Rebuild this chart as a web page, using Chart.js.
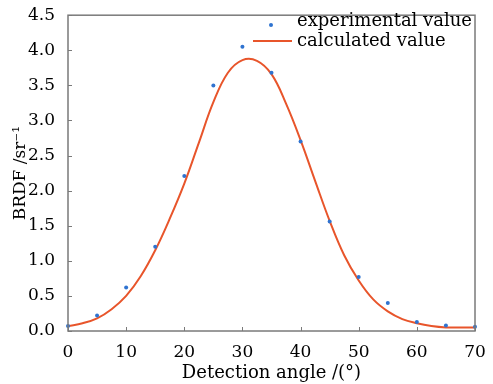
<!DOCTYPE html>
<html>
<head>
<meta charset="utf-8">
<script src="https://cdn.jsdelivr.net/npm/chart.js@4.4.0/dist/chart.umd.min.js"></script>
<style>
    html, body { margin: 0; padding: 0; background: #fff; }
    #wrap { width: 493px; height: 384px; }
</style>
</head>
<body>
<div id="wrap"><canvas id="brdfChart" width="493" height="384"></canvas></div>
<script>
// Measured points
const expAngles = [0, 5, 10, 15, 20, 25, 30, 35, 40, 45, 50, 55, 60, 65, 70];
const expValues = [0.07, 0.22, 0.62, 1.2, 2.21, 3.5, 4.05, 3.68, 2.7, 1.56, 0.77, 0.4, 0.13, 0.08, 0.06];

// Calculated curve
const calcAngles = [0, 2.5, 5, 7.5, 10, 12.5, 15, 17.5, 20, 22.5, 25, 27.5, 30, 32.5, 35, 37.5, 40, 42.5, 45, 47.5, 50, 52.5, 55, 57.5, 60, 62.5, 65, 67.5, 70];
const calcValues = [0.07, 0.11, 0.18, 0.31, 0.5, 0.78, 1.15, 1.6, 2.1, 2.68, 3.26, 3.68, 3.86, 3.85, 3.66, 3.24, 2.72, 2.14, 1.57, 1.08, 0.72, 0.45, 0.28, 0.17, 0.11, 0.07, 0.05, 0.05, 0.05];

const legendLabels = ["experimental value", "calculated value"];

const pointColor = "#2f73d0";
const lineColor = "#e8552b";
const frameColor = "#7a7a7a";
const fontFamily = "'DejaVu Serif', serif";

function toXY(xs, ys) {
    return xs.map((x, i) => ({ x: x, y: ys[i] }));
}

// Frame, inward ticks and legend
const framePlugin = {
    id: "frame",
    afterDraw(chart) {
        const ctx = chart.ctx;
        const area = chart.chartArea;
        const xScale = chart.scales.x;
        const yScale = chart.scales.y;

        ctx.save();
        ctx.strokeStyle = frameColor;
        ctx.lineWidth = 1.5;
        ctx.strokeRect(area.left, area.top, area.right - area.left, area.bottom - area.top);

        ctx.lineWidth = 1;
        ctx.beginPath();
        xScale.ticks.forEach((t) => {
            const px = Math.round(xScale.getPixelForValue(t.value)) + 0.5;
            ctx.moveTo(px, area.bottom);
            ctx.lineTo(px, area.bottom - 4);
        });
        yScale.ticks.forEach((t) => {
            const py = Math.round(yScale.getPixelForValue(t.value)) + 0.5;
            ctx.moveTo(area.left, py);
            ctx.lineTo(area.left + 4, py);
        });
        ctx.stroke();

        // legend
        ctx.font = "18px " + fontFamily;
        ctx.textBaseline = "middle";
        ctx.textAlign = "left";

        ctx.fillStyle = pointColor;
        ctx.beginPath();
        ctx.arc(271, 25, 2, 0, Math.PI * 2);
        ctx.fill();

        ctx.strokeStyle = lineColor;
        ctx.lineWidth = 2;
        ctx.beginPath();
        ctx.moveTo(253, 41);
        ctx.lineTo(292, 41);
        ctx.stroke();

        ctx.fillStyle = "#000";
        ctx.fillText(legendLabels[0], 297, 21);
        ctx.fillText(legendLabels[1], 297, 41);
        ctx.restore();
    },
};

const ctx = document.getElementById("brdfChart").getContext("2d");

new Chart(ctx, {
    type: "scatter",
    data: {
        datasets: [
            {
                label: legendLabels[1],
                data: toXY(calcAngles, calcValues),
                showLine: true,
                borderColor: lineColor,
                borderWidth: 2,
                pointRadius: 0,
                tension: 0.4,
                order: 2,
            },
            {
                label: legendLabels[0],
                data: toXY(expAngles, expValues),
                backgroundColor: pointColor,
                borderColor: pointColor,
                pointRadius: 2,
                borderWidth: 0,
                clip: false,
                order: 1,
            },
        ],
    },
    options: {
        responsive: false,
        animation: false,
        layout: {
            padding: { left: 10, top: 11, right: 18, bottom: 0 },
        },
        plugins: {
            legend: { display: false },
            tooltip: { enabled: false },
        },
        scales: {
            x: {
                type: "linear",
                min: 0,
                max: 70,
                grid: { display: false },
                border: { display: false },
                ticks: {
                    stepSize: 10,
                    color: "#000",
                    padding: 3,
                    font: { family: fontFamily, size: 17 },
                },
                title: {
                    display: true,
                    text: "Detection angle /(°)",
                    color: "#000",
                    padding: { top: 0, bottom: 0 },
                    font: { family: fontFamily, size: 18 },
                },
                afterFit(scale) {
                    scale.height = 53;
                },
            },
            y: {
                min: 0,
                max: 4.5,
                grid: { display: false },
                border: { display: false },
                ticks: {
                    stepSize: 0.5,
                    color: "#000",
                    padding: 5,
                    font: { family: fontFamily, size: 17 },
                    callback: (v) => v.toFixed(1),
                },
                title: {
                    display: true,
                    text: "BRDF /sr⁻¹",
                    color: "#000",
                    padding: { top: 0, bottom: 0 },
                    font: { family: fontFamily, size: 17 },
                },
                afterFit(scale) {
                    scale.width = 58;
                },
            },
        },
    },
    plugins: [framePlugin],
});
</script>
</body>
</html>
